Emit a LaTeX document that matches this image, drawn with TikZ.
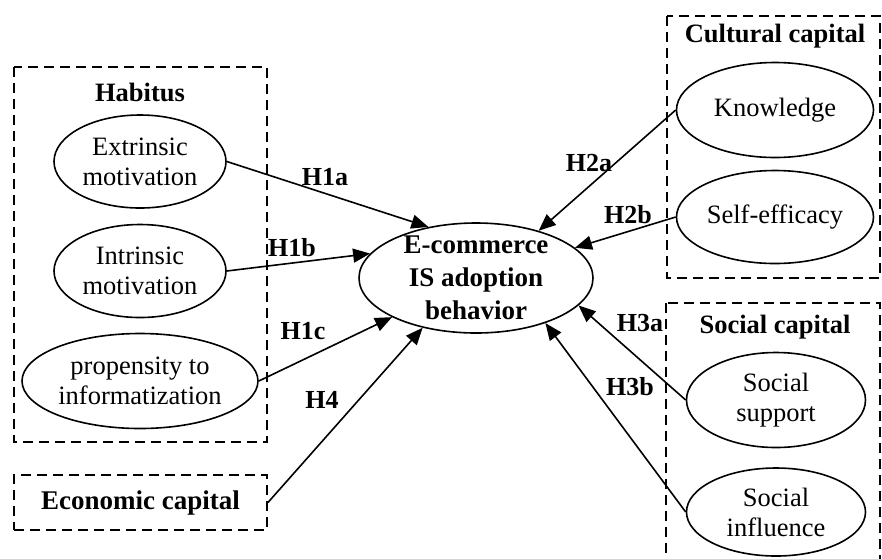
\documentclass[tikz,border=0pt]{standalone}
\usepackage{fontspec}
\setmainfont{Liberation Serif}
\usetikzlibrary{shapes.geometric,arrows.meta}
\begin{document}
\begin{tikzpicture}[x=1pt,y=-1pt,
  every node/.style={font=\fontsize{26.5}{30}\selectfont},
  oval/.style={draw,ellipse,line width=1.6pt,inner sep=0pt,align=center},
  grp/.style={draw,dash pattern=on 10pt off 6pt,line width=1.9pt},
  ttl/.style={font=\fontsize{26.5}{30}\selectfont\bfseries,inner sep=0pt},
  lbl/.style={font=\fontsize{26}{30}\selectfont\bfseries,inner sep=0pt},
  arr/.style={line width=1.6pt,-{Triangle[length=17pt,width=14pt]}}
]
\useasboundingbox (0,0) rectangle (882,558);
\clip (0,0) rectangle (882,558);

% group boxes
\draw[grp] (14,67) rectangle (267,442);
\draw[grp] (667,16) rectangle (880,278);
\draw[grp] (666,303) rectangle (880,575);
\node[grp,minimum width=253pt,minimum height=55pt,inner sep=0pt,font=\fontsize{27}{30}\selectfont\bfseries] (econ) at (140.5,502.5) {Economic capital};

% titles
\node[ttl] (hab) at (140,92) {Habitus};
\node[ttl] (cul) at (775,36) {Cultural capital};
\node[ttl] (soc) at (775,327) {Social capital};

% ellipses
\node[oval,minimum width=172pt,minimum height=93pt] (ext) at (140,161.5) {Extrinsic\\motivation};
\node[oval,minimum width=172pt,minimum height=93pt] (int) at (140,271) {Intrinsic\\motivation};
\node[oval,minimum width=236pt,minimum height=95pt] (prop) at (140,381) {propensity to\\informatization};
\node[oval,minimum width=234pt,minimum height=110pt,inner ysep=-16pt,font=\fontsize{27}{33}\selectfont\bfseries] (c) at (476,278) {E-commerce\\IS adoption\\behavior};
\node[oval,minimum width=197pt,minimum height=95pt] (know) at (775,110) {Knowledge};
\node[oval,minimum width=197pt,minimum height=93pt] (self) at (775,217) {Self-efficacy};
\node[oval,minimum width=179pt,minimum height=95pt] (sup) at (776,400) {Social\\support};
\node[oval,minimum width=179pt,minimum height=88pt] (inf) at (776,512) {Social\\influence};

% arrows
\draw[arr] (ext.east) -- (c.133);
\draw[arr] (int.east) -- (c.167);
\draw[arr] (prop.east) -- (c.205);
\draw[arr] (econ.east) -- (c.223);
\draw[arr] (know.west) -- (c.37);
\draw[arr] (self.west) -- (c.17);
\draw[arr] (sup.west) -- (c.345);
\draw[arr] (inf.west) -- (c.327);

% labels
\node[lbl] (l1a) at (325,177) {H1a};
\node[lbl] (l1b) at (292,248) {H1b};
\node[lbl] (l1c) at (303,331) {H1c};
\node[lbl] (l4) at (322,400) {H4};
\node[lbl] (l2a) at (589,163) {H2a};
\node[lbl] (l2b) at (628,215) {H2b};
\node[lbl] (l3a) at (640,323) {H3a};
\node[lbl] (l3b) at (630,387) {H3b};
\end{tikzpicture}
\end{document}
